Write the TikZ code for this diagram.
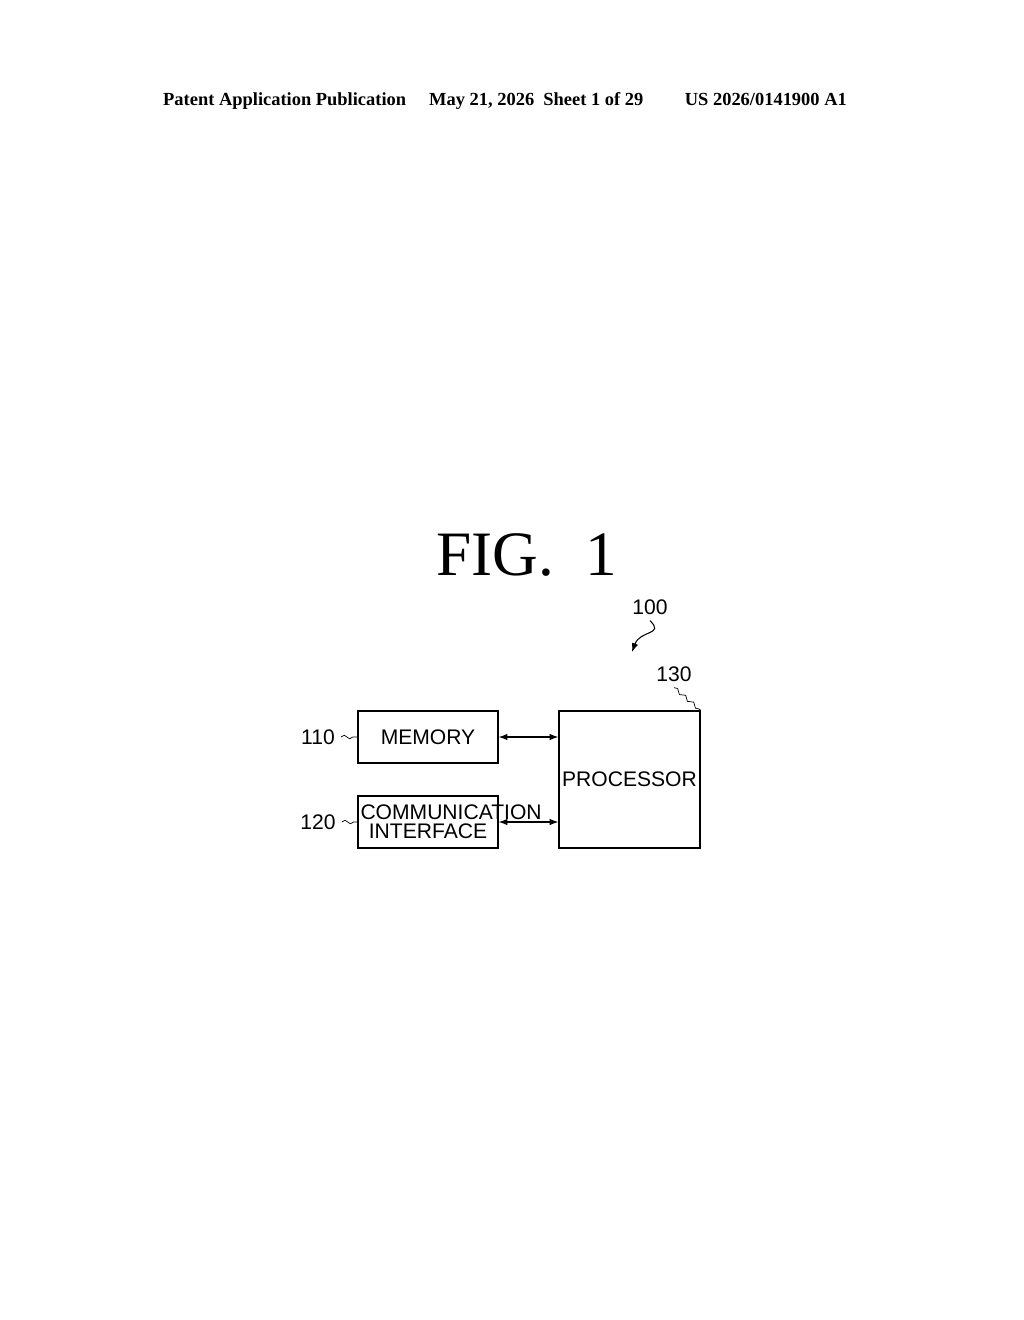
\documentclass[tikz,border=0pt]{standalone}
\usepackage{fontspec}
\setmainfont{Liberation Serif}
\setsansfont{Liberation Sans}
\usetikzlibrary{arrows.meta, calc, positioning, decorations.pathmorphing}

\begin{document}
\begin{tikzpicture}[x=0.02cm, y=-0.02cm,
  blk/.style={draw, line width=0.8pt, inner sep=0pt, font=\sffamily\fontsize{12}{13}\selectfont},
  tag/.style={font=\sffamily\fontsize{12}{13}\selectfont},
  link/.style={{Latex[length=5pt]}-{Latex[length=5pt]}, line width=0.6pt},
  squiggle/.style={decorate, decoration={snake, amplitude=1pt, segment length=6pt}}]
\useasboundingbox (0,0) rectangle (1024,1320);

% Header
\node[font=\bfseries\fontsize{10.5}{12}\selectfont] (hdr) at (505,101)
  {Patent Application Publication \quad May 21, 2026 \ Sheet 1 of 29 \qquad US 2026/0141900 A1};

% Title
\node[font=\fontsize{36}{40}\selectfont] (fig) at (527,555) {FIG.\ \ 1};

% Blocks
\node[blk, minimum width=140\pgflinewidth, text width=2.7cm, align=center, minimum width=2.8cm, minimum height=1.04cm] (mem) at (428,737) {MEMORY};
\node[blk, text width=2.7cm, align=center, minimum width=2.8cm, minimum height=1.04cm] (comm) at (428,822) {COMMUNICATION\\[-2pt]INTERFACE};
\node[blk, text width=2.7cm, align=center, minimum width=2.82cm, minimum height=2.74cm] (proc) at (629.5,779.5) {PROCESSOR};

% Connections
\draw[link] (mem.east) -- (mem.east -| proc.west);
\draw[link] (comm.east) -- (comm.east -| proc.west);

% Reference numerals
\node[tag] (n110) at (318,737) {110};
\node[tag] (n120) at (318,822) {120};
\node[tag] (n130) at (674,674) {130};
\node[tag] (n100) at (650,607) {100};
\draw[squiggle] (n110.east) -- (mem.west);
\draw[squiggle] (n120.east) -- (comm.west);
\draw[squiggle] (n130.south) -- (proc.north east);
\coordinate (tip) at (632,652);
\draw[-{Latex[length=5pt]}, line width=0.6pt] (n100.south) .. controls (665,635) and (640,630) .. (tip);
\end{tikzpicture}
\end{document}
